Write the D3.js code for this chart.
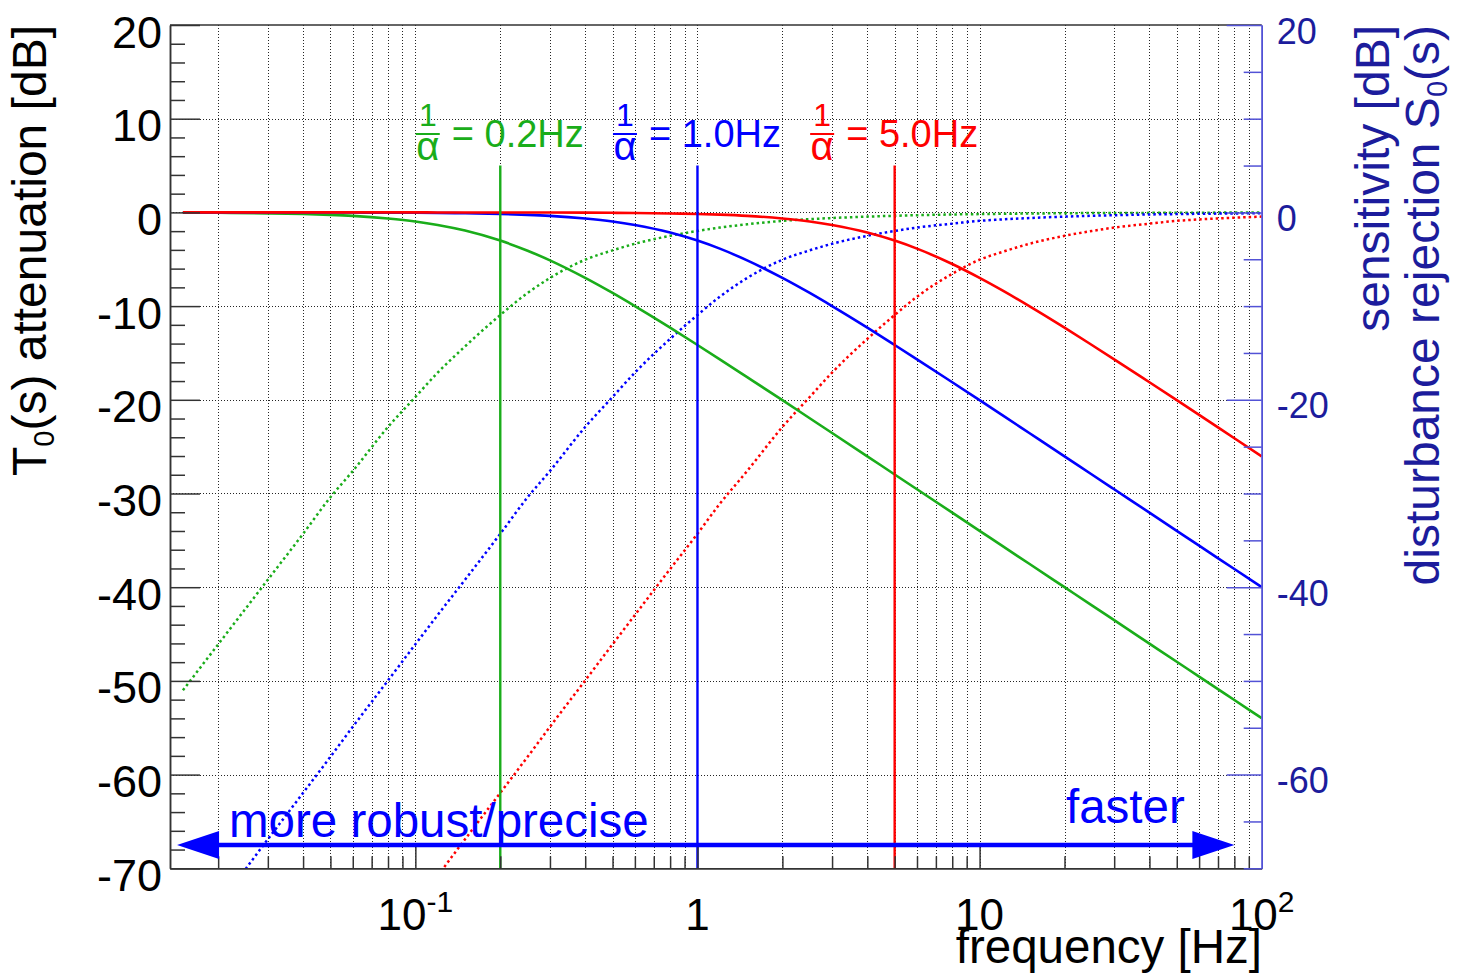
<!DOCTYPE html>
<html><head><meta charset="utf-8">
<script src="https://cdn.jsdelivr.net/npm/d3@7"></script>
<style>
html,body{margin:0;padding:0;background:#fff;}
svg{display:block;font-family:"Liberation Sans",Arial,Helvetica,sans-serif;}
</style></head><body>
<svg id="chart" width="1460" height="980"></svg>
<script>
// ---- data ----
const freqs = [0.015, 0.02, 0.03, 0.04, 0.05, 0.06, 0.08, 0.1, 0.12, 0.15, 0.2, 0.25, 0.3, 0.4, 0.5, 0.6, 0.8, 1, 1.2, 1.5, 2, 2.5, 3, 4, 5, 6, 8, 10, 12, 15, 20, 25, 30, 40, 50, 60, 80, 100];

// T0(s) attenuation [dB], solid curves
const greenT = [-0.02, -0.04, -0.1, -0.17, -0.26, -0.37, -0.65, -0.97, -1.34, -1.94, -3.01, -4.09, -5.12, -6.99, -8.6, -10.0, -12.3, -14.15, -15.68, -17.58, -20.04, -21.97, -23.54, -26.03, -27.97, -29.55, -32.04, -33.98, -35.57, -37.5, -40.0, -41.94, -43.52, -46.02, -47.96, -49.54, -52.04, -53.98];
const blueT = [-0.001, -0.002, -0.004, -0.007, -0.011, -0.016, -0.028, -0.043, -0.062, -0.097, -0.17, -0.26, -0.37, -0.65, -0.97, -1.34, -2.15, -3.01, -3.87, -5.12, -6.99, -8.6, -10.0, -12.3, -14.15, -15.68, -18.13, -20.04, -21.61, -23.54, -26.03, -27.97, -29.55, -32.04, -33.98, -35.57, -38.06, -40.0];
const redT = [0, 0, 0, 0, 0, -0.001, -0.001, -0.002, -0.003, -0.004, -0.007, -0.011, -0.016, -0.028, -0.043, -0.062, -0.11, -0.17, -0.24, -0.37, -0.65, -0.97, -1.34, -2.15, -3.01, -3.87, -5.51, -6.99, -8.3, -10.0, -12.3, -14.15, -15.68, -18.13, -20.04, -21.61, -24.1, -26.03];

// S0(s) sensitivity [dB], dotted curves
const greenS = [-51.0, -46.1, -39.2, -34.3, -30.4, -27.6, -22.9, -19.7, -17.1, -14.3, -10.95, -8.6, -7.0, -5.05, -4.05, -3.35, -2.5, -1.98, -1.62, -1.27, -0.9, -0.72, -0.6, -0.45, -0.36, -0.3, -0.22, -0.18, -0.15, -0.12, -0.09, -0.07, -0.06, -0.05, -0.04, -0.03, -0.02, -0.02];
const blueS = [-79.0, -74.0, -66.9, -61.95, -58.1, -54.9, -49.95, -46.1, -42.97, -39.2, -34.3, -30.4, -27.6, -22.9, -19.7, -17.1, -13.5, -10.95, -9.0, -7.0, -5.05, -4.05, -3.35, -2.5, -1.98, -1.62, -1.2, -0.9, -0.75, -0.6, -0.45, -0.36, -0.3, -0.22, -0.18, -0.15, -0.11, -0.09];
const redS = [-106.9, -101.9, -94.9, -89.9, -86.0, -82.85, -77.9, -74.0, -70.8, -66.9, -61.95, -58.1, -54.9, -49.95, -46.1, -42.97, -38.06, -34.3, -31.1, -27.6, -22.9, -19.7, -17.1, -13.5, -10.95, -9.0, -6.55, -5.05, -4.23, -3.35, -2.5, -1.98, -1.62, -1.2, -0.9, -0.75, -0.57, -0.45];

const cutoffs = [0.2, 1.0, 5.0];
const cutoffText = ["= 0.2Hz", "= 1.0Hz", "= 5.0Hz"];

const leftMajor = [20, 10, 0, -10, -20, -30, -40, -50, -60, -70];
const rightMajor = [20, 0, -20, -40, -60];
const xLabelTicks = [0.1, 1, 10, 100];
const xLabelBase = ["10", "1", "10", "10"];
const xLabelExp = ["-1", "", "", "2"];

// ---- styles ----
const GREEN = "#1aad1a", BLUE = "#0000ff", RED = "#ff0000";
const RAX = "#5252d6", RLAB = "#1c1c9c";
const colors = [GREEN, BLUE, RED];

const svg = d3.select("#chart");
const L = 170, R = 1261.7, T = 25, B = 868.3;
const x = d3.scaleLog().domain([0.0135, 100]).range([L, R]);
const y = d3.scaleLinear().domain([-70, 20]).range([B, T]);

svg.append("defs").append("clipPath").attr("id", "plot")
  .append("rect").attr("x", L).attr("y", T).attr("width", R - L).attr("height", B - T);

// ---- grid ----
const grid = svg.append("g").attr("stroke", "#000").attr("stroke-width", 1)
  .attr("stroke-dasharray", "1,2").attr("opacity", 0.85);
const gx = x.ticks().filter(v => v > 0.0136 && v < 99.9);
grid.selectAll("line.gx").data(gx).join("line")
  .attr("x1", d => Math.round(x(d)) + 0.5).attr("x2", d => Math.round(x(d)) + 0.5)
  .attr("y1", T).attr("y2", B);
const gy = d3.range(-60, 20, 10);
grid.selectAll("line.gy").data(gy).join("line")
  .attr("y1", d => Math.round(y(d)) + 0.5).attr("y2", d => Math.round(y(d)) + 0.5)
  .attr("x1", L).attr("x2", R);

// ---- curves ----
const plot = svg.append("g").attr("clip-path", "url(#plot)");
const line = d3.line().x((d, i) => x(freqs[i])).y(d => y(d)).curve(d3.curveMonotoneX);
const Sser = [greenS, blueS, redS];
const Tser = [greenT, blueT, redT];
Sser.forEach((s, k) => {
  plot.append("path").attr("d", line(s)).attr("fill", "none")
    .attr("stroke", colors[k]).attr("stroke-width", 2.5).attr("stroke-dasharray", "2.5,3");
});
Tser.forEach((s, k) => {
  plot.append("path").attr("d", line(s)).attr("fill", "none")
    .attr("stroke", colors[k]).attr("stroke-width", 2.6);
});

// cutoff vertical lines + labels
cutoffs.forEach((fc, k) => {
  svg.append("line").attr("x1", x(fc)).attr("x2", x(fc)).attr("y1", y(5)).attr("y2", B)
    .attr("stroke", colors[k]).attr("stroke-width", 2.4);
  const xc = x(fc) - 72.5;
  const g = svg.append("g").attr("fill", colors[k]);
  g.append("text").attr("x", xc).attr("y", 126).attr("text-anchor", "middle")
    .attr("font-size", 32).text("1");
  g.append("line").attr("x1", xc - 12).attr("x2", xc + 12).attr("y1", 134).attr("y2", 134)
    .attr("stroke", colors[k]).attr("stroke-width", 2);
  g.append("text").attr("x", xc).attr("y", 160).attr("text-anchor", "middle")
    .attr("font-size", 40).text("α");
  g.append("text").attr("x", xc + 24).attr("y", 147).attr("font-size", 38).text(cutoffText[k]);
});

// ---- axes ----
const AX = "#333";
// left
const lax = svg.append("g").attr("transform", `translate(${L},0)`)
  .call(d3.axisLeft(y).tickValues(leftMajor).tickSize(-30).tickSizeOuter(0).tickPadding(8).tickFormat(d => String(d)));
lax.selectAll("text").attr("font-size", 45).attr("fill", "#000").attr("dy", "0.49em")
  .attr("font-family", "Liberation Sans, Arial, sans-serif");
const lmin = svg.append("g").attr("transform", `translate(${L},0)`)
  .call(d3.axisLeft(y).tickValues(d3.range(-70, 20, 2).filter(v => v % 10 !== 0)).tickSize(-15).tickSizeOuter(0).tickFormat(""));
[lax, lmin].forEach(g => { g.selectAll("line").attr("stroke", AX).attr("stroke-width", 1.5); g.select(".domain").attr("stroke", AX).attr("stroke-width", 1.5); });

// bottom
const bmin = svg.append("g").attr("transform", `translate(0,${B})`)
  .call(d3.axisBottom(x).tickValues(gx.filter(v => ![0.1, 1, 10].includes(+v.toPrecision(3)))).tickSize(-12).tickSizeOuter(0).tickFormat(""));
const bmaj = svg.append("g").attr("transform", `translate(0,${B})`)
  .call(d3.axisBottom(x).tickValues([0.1, 1, 10]).tickSize(-22).tickSizeOuter(0).tickFormat(""));
[bmin, bmaj].forEach(g => { g.selectAll("line").attr("stroke", AX).attr("stroke-width", 1.5); g.select(".domain").attr("stroke", AX).attr("stroke-width", 1.5); });

xLabelTicks.forEach((v, i) => {
  const t = svg.append("text").attr("x", x(v)).attr("y", 930).attr("text-anchor", "middle")
    .attr("font-size", 44).attr("fill", "#000");
  t.append("tspan").text(xLabelBase[i]);
  if (xLabelExp[i]) t.append("tspan").attr("dy", -18).attr("font-size", 30).text(xLabelExp[i]);
});
svg.append("text").attr("x", 1262).attr("y", 963).attr("text-anchor", "end")
  .attr("font-size", 47.5).attr("fill", "#000").text("frequency [Hz]");

// top frame
svg.append("line").attr("x1", L).attr("x2", R).attr("y1", T).attr("y2", T)
  .attr("stroke", AX).attr("stroke-width", 1.5);

// right axis
const rax = svg.append("g").attr("transform", `translate(${R},0)`)
  .call(d3.axisRight(y).tickValues(rightMajor).tickSize(-35).tickSizeOuter(0).tickPadding(15).tickFormat(d => String(d)));
rax.selectAll("text").attr("font-size", 36).attr("fill", RLAB).attr("dy", "0.5em")
  .attr("font-family", "Liberation Sans, Arial, sans-serif");
const rmin = svg.append("g").attr("transform", `translate(${R},0)`)
  .call(d3.axisRight(y).tickValues(d3.range(-70, 20, 5).filter(v => v % 20 !== 0)).tickSize(-18).tickSizeOuter(0).tickFormat(""));
[rax, rmin].forEach(g => { g.selectAll("line").attr("stroke", RAX).attr("stroke-width", 1.5); g.select(".domain").attr("stroke", RAX).attr("stroke-width", 1.5); });

// axis titles
const lt = svg.append("text").attr("transform", "translate(46,25) rotate(-90)")
  .attr("text-anchor", "end").attr("font-size", 48).attr("fill", "#000");
lt.append("tspan").text("T");
lt.append("tspan").attr("dy", 8).attr("font-size", 29).text("0");
lt.append("tspan").attr("dy", -8).text("(s) attenuation [dB]");

svg.append("text").attr("transform", "translate(1389,25) rotate(-90)")
  .attr("text-anchor", "end").attr("font-size", 48).attr("fill", RLAB).text("sensitivity [dB]");
const rt = svg.append("text").attr("transform", "translate(1439,25) rotate(-90)")
  .attr("text-anchor", "end").attr("font-size", 48).attr("fill", RLAB);
rt.append("tspan").text("disturbance rejection S");
rt.append("tspan").attr("dy", 8).attr("font-size", 29).text("0");
rt.append("tspan").attr("dy", -8).text("(s)");

// ---- arrow & annotations ----
const ay = y(-67.5);
const ax0 = x(0.0143), ax1 = x(80);
svg.append("line").attr("x1", ax0 + 40).attr("x2", ax1 - 40).attr("y1", ay).attr("y2", ay)
  .attr("stroke", BLUE).attr("stroke-width", 4.5);
svg.append("path").attr("d", `M${ax0},${ay}L${ax0 + 42},${ay - 14}L${ax0 + 42},${ay + 14}Z`).attr("fill", BLUE);
svg.append("path").attr("d", `M${ax1},${ay}L${ax1 - 42},${ay - 14}L${ax1 - 42},${ay + 14}Z`).attr("fill", BLUE);
svg.append("text").attr("x", 229).attr("y", 837).attr("font-size", 47.5).attr("fill", BLUE).text("more robust/precise");
svg.append("text").attr("x", 1066).attr("y", 823).attr("font-size", 47.5).attr("fill", BLUE).text("faster");
</script>
</body></html>
